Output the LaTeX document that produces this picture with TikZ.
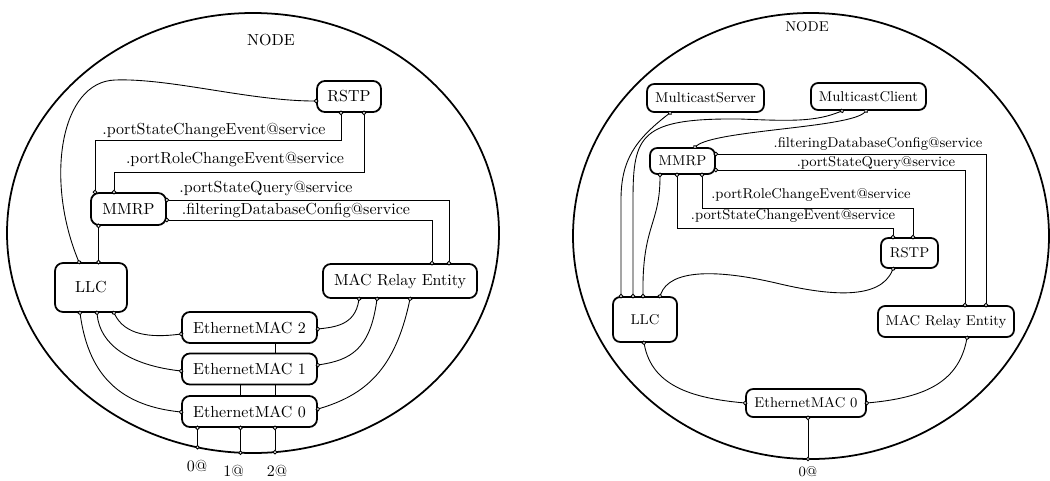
\documentclass[tikz,border=0pt]{standalone}
\usetikzlibrary{arrows.meta}
\begin{document}
\begin{tikzpicture}[x=0.625pt, y=-0.625pt,
  box/.style={draw, line width=1.1pt, rounded corners=5pt, fill=white, inner sep=0pt,
              font=\fontsize{10}{12}\selectfont},
  rbox/.style={box, rounded corners=4.5pt, font=\fontsize{8.9}{10}\selectfont},
  frame/.style={line width=1.1pt},
  link/.style={line width=0.55pt,
               {Circle[length=2.8pt,fill=white]}-{Circle[length=2.8pt,fill=white]},
               shorten <=-1.4pt, shorten >=-1.4pt},
  lbl/.style={inner sep=0pt, font=\fontsize{10}{12}\selectfont},
  rlbl/.style={inner sep=0pt, font=\fontsize{8.9}{10}\selectfont},
]
\useasboundingbox (0,0) rectangle (1050,480);

% ---------------- first node: three Ethernet ports ----------------
\draw[frame] (253,233) ellipse [x radius=246, y radius=220];
\node[lbl] (nodeL) at (271,40) {NODE};

\node[box, minimum width=40pt,   minimum height=19.4pt] (rstpL)  at (349,96.5)  {RSTP};
\node[box, minimum width=46.9pt, minimum height=20pt]   (mmrpL)  at (128.5,209) {MMRP};
\node[box, minimum width=45pt,   minimum height=30.6pt] (llcL)   at (91,287.5)  {LLC};
\node[box, minimum width=96.3pt, minimum height=21.3pt] (macL)   at (400,281)   {MAC Relay Entity};
\node[box, minimum width=84.4pt, minimum height=19.4pt] (emac2L) at (249.5,327.5) {EthernetMAC 2};
\node[box, minimum width=84.4pt, minimum height=19.4pt] (emac1L) at (249.5,369)   {EthernetMAC 1};
\node[box, minimum width=84.4pt, minimum height=19.4pt] (emac0L) at (249.5,411.5) {EthernetMAC 0};

\coordinate (p0) at (197.5,447.3);
\coordinate (p1) at (240.5,452.7);
\coordinate (p2) at (275,452.1);
\node[lbl] (pL0) at (197,466)   {0@};
\node[lbl] (pL1) at (233.5,471) {1@};
\node[lbl] (pL2) at (277,471)   {2@};

\node[lbl] (lpsce) at (214,131)   {.portStateChangeEvent@service};
\node[lbl] (lprce) at (235,159.5) {.portRoleChangeEvent@service};
\node[lbl] (lpsq)  at (266,188.5) {.portStateQuery@service};
\node[lbl] (lfdc)  at (296,210.5) {.filteringDatabaseConfig@service};

\draw[link] (rstpL.west |- 0,101) .. controls (250,101) and (170,78) .. (115,80)
            .. controls (60,82) and (45,180) .. (79,0 |- llcL.north);
\draw[link] (341,0 |- rstpL.south) -- (341,140) -- (95,140) -- (95,0 |- mmrpL.north);
\draw[link] (364,0 |- rstpL.south) -- (364,172) -- (114,172) -- (114,0 |- mmrpL.north);
\draw[link] (mmrpL.east |- 0,200) -- (449,200) -- (449,0 |- macL.north);
\draw[link] (mmrpL.east |- 0,220) -- (432,220) -- (432,0 |- macL.north);
\draw[link] (98.5,0 |- mmrpL.south) -- (98.5,0 |- llcL.north);

\draw[link] (114,0 |- llcL.south) .. controls (125,335) and (150,338) .. (emac2L.west |- 0,334);
\draw[link] (97,0 |- llcL.south) .. controls (100,345) and (130,365) .. (emac1L.west |- 0,371);
\draw[link] (80,0 |- llcL.south) .. controls (88,370) and (115,405) .. (emac0L.west |- 0,412);
\draw[link] (359,0 |- macL.south) .. controls (355,325) and (335,327) .. (emac2L.east |- 0,329);
\draw[link] (377,0 |- macL.south) .. controls (370,350) and (350,360) .. (emac1L.east |- 0,365);
\draw[link] (410,0 |- macL.south) .. controls (395,370) and (365,395) .. (emac0L.east |- 0,409);

% port lines pass behind the lower MAC boxes
\draw[link] (275,0 |- emac2L.south) -- (275,0 |- emac1L.north)
            (275,0 |- emac1L.south) -- (275,0 |- emac0L.north)
            (275,0 |- emac0L.south) -- (p2);
\draw[link] (240.5,0 |- emac1L.south) -- (240.5,0 |- emac0L.north)
            (240.5,0 |- emac0L.south) -- (p1);
\draw[link] (197.5,0 |- emac0L.south) -- (p0);

% ---------------- second node: multicast applications ----------------
\draw[frame] (811,236) ellipse [x radius=238, y radius=223];
\node[rlbl] (nodeR) at (807,26.5) {NODE};

\node[rbox, minimum width=73.1pt, minimum height=17.5pt]  (msR)    at (705.5,98)   {MulticastServer};
\node[rbox, minimum width=71.9pt, minimum height=16.9pt]  (mcR)    at (868.5,96.5) {MulticastClient};
\node[rbox, minimum width=40.6pt, minimum height=16.25pt] (mmrpR)  at (682.5,161)  {MMRP};
\node[rbox, minimum width=35.6pt, minimum height=18.75pt] (rstpR)  at (909.5,253)  {RSTP};
\node[rbox, minimum width=40pt,   minimum height=28.1pt]  (llcR)   at (645,319.5)  {LLC};
\node[rbox, minimum width=85pt,   minimum height=19.4pt]  (macR)   at (946,321.5)  {MAC Relay Entity};
\node[rbox, minimum width=75pt,   minimum height=17.5pt]  (emac0R) at (806,403)    {EthernetMAC 0};

\coordinate (q0) at (808,459);
\node[rlbl] (pR0) at (808,472) {0@};

\node[rlbl] (rfdc)  at (878,143.5) {.filteringDatabaseConfig@service};
\node[rlbl] (rpsq)  at (876,163)   {.portStateQuery@service};
\node[rlbl] (rprce) at (811,195)   {.portRoleChangeEvent@service};
\node[rlbl] (rpsce) at (793,216)   {.portStateChangeEvent@service};

\draw[link] (670,0 |- msR.south) .. controls (635,140) and (621,160) .. (621,200)
            -- (621,0 |- llcR.north);
\draw[link] (842,0 |- mcR.south) .. controls (815,122) and (790,121) .. (740,119)
            .. controls (640,118) and (633,135) .. (633,200) -- (633,0 |- llcR.north);
\draw[link] (866,0 |- mcR.south) .. controls (850,128) and (715,130) .. (695,0 |- mmrpR.north);
\draw[link] (660,0 |- mmrpR.south) .. controls (660,225) and (642,225) .. (643,0 |- llcR.north);
\draw[link] (677,0 |- mmrpR.south) -- (677,228) -- (893,228) -- (893,0 |- rstpR.north);
\draw[link] (702,0 |- mmrpR.south) -- (702,208) -- (913,208) -- (913,0 |- rstpR.north);
\draw[link] (mmrpR.east |- 0,154) -- (986,154) -- (986,0 |- macR.north);
\draw[link] (mmrpR.east |- 0,170) -- (965,170) -- (965,0 |- macR.north);
\draw[link] (660,0 |- llcR.north) .. controls (670,268) and (720,270) .. (776,283)
            .. controls (830,296) and (880,300) .. (893,0 |- rstpR.south);
\draw[link] (644,0 |- llcR.south) .. controls (652,385) and (690,398) .. (emac0R.west);
\draw[link] (967,0 |- macR.south) .. controls (958,385) and (920,398) .. (emac0R.east);
\draw[link] (808,0 |- emac0R.south) -- (q0);
\end{tikzpicture}
\end{document}
